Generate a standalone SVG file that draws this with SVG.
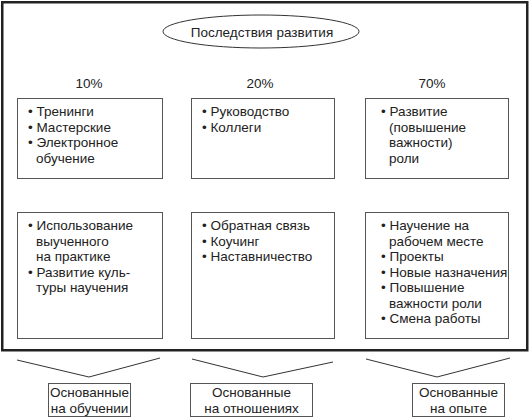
<svg xmlns="http://www.w3.org/2000/svg" width="530" height="420" viewBox="0 0 530 420">
<style>
text{font-family:"Liberation Sans",Arial,sans-serif;font-size:13.5px;fill:#222}
.box{fill:#fff;stroke:#555;stroke-width:1}
.c{text-anchor:middle}
.chev{fill:none;stroke:#333;stroke-width:1}
</style>
<rect width="530" height="420" fill="#fff"/>
<g id="frame"><rect x="2.25" y="2.25" width="525" height="348" fill="none" stroke="#222" stroke-width="2.5"/></g>
<g id="title">
<ellipse cx="261" cy="31.5" rx="98" ry="16.5" fill="#fff" stroke="#333" stroke-width="1"/>
<text class="c" x="262" y="36.5">Последствия развития</text>
</g>
<g id="percent">
<text class="c" x="89" y="88">10%</text>
<text class="c" x="260" y="88">20%</text>
<text class="c" x="432" y="88">70%</text>
</g>
<g id="box-learning">
<rect class="box" x="17.5" y="98.5" width="145" height="80"/>
<text x="28" y="116">• Тренинги</text>
<text x="28" y="131.5">• Мастерские</text>
<text x="28" y="147">• Электронное</text>
<text x="36" y="162.5">обучение</text>
</g>
<g id="box-relations">
<rect class="box" x="191.5" y="98.5" width="143" height="80"/>
<text x="202" y="116">• Руководство</text>
<text x="202" y="131.5">• Коллеги</text>
</g>
<g id="box-experience">
<rect class="box" x="365.5" y="98.5" width="143" height="80"/>
<text x="381" y="116">• Развитие</text>
<text x="389" y="131.5">(повышение</text>
<text x="389" y="147">важности)</text>
<text x="389" y="162.5">роли</text>
</g>
<g id="box-learning-2">
<rect class="box" x="17.5" y="212.5" width="145" height="126"/>
<text x="28" y="230">• Использование</text>
<text x="36" y="245.5">выученного</text>
<text x="36" y="261">на практике</text>
<text x="28" y="276.5">• Развитие куль-</text>
<text x="36" y="292">туры научения</text>
</g>
<g id="box-relations-2">
<rect class="box" x="191.5" y="212.5" width="143" height="126"/>
<text x="202" y="230">• Обратная связь</text>
<text x="202" y="245.5">• Коучинг</text>
<text x="202" y="261">• Наставничество</text>
</g>
<g id="box-experience-2">
<rect class="box" x="365.5" y="212.5" width="143" height="126"/>
<text x="381" y="230">• Научение на</text>
<text x="389" y="245.5">рабочем месте</text>
<text x="381" y="261">• Проекты</text>
<text x="381" y="276.5">• Новые назначения</text>
<text x="381" y="292">• Повышение</text>
<text x="389" y="307.5">важности роли</text>
<text x="381" y="323">• Смена работы</text>
</g>
<g id="connectors">
<polyline class="chev" points="17,360 89,377 160,358"/>
<polyline class="chev" points="192,359 263,377 333,362"/>
<polyline class="chev" points="366,359 437,377 510,358"/>
</g>
<g id="out-learning">
<rect class="box" x="48.5" y="383.5" width="82" height="33"/>
<text class="c" x="89.5" y="397">Основанные</text>
<text class="c" x="89.5" y="412.5">на обучении</text>
</g>
<g id="out-relations">
<rect class="box" x="190.5" y="383.5" width="122" height="33"/>
<text class="c" x="251.5" y="397">Основанные</text>
<text class="c" x="251.5" y="412.5">на отношениях</text>
</g>
<g id="out-experience">
<rect class="box" x="412.5" y="383.5" width="92" height="33"/>
<text class="c" x="458.5" y="397">Основанные</text>
<text class="c" x="458.5" y="412.5">на опыте</text>
</g>
</svg>
